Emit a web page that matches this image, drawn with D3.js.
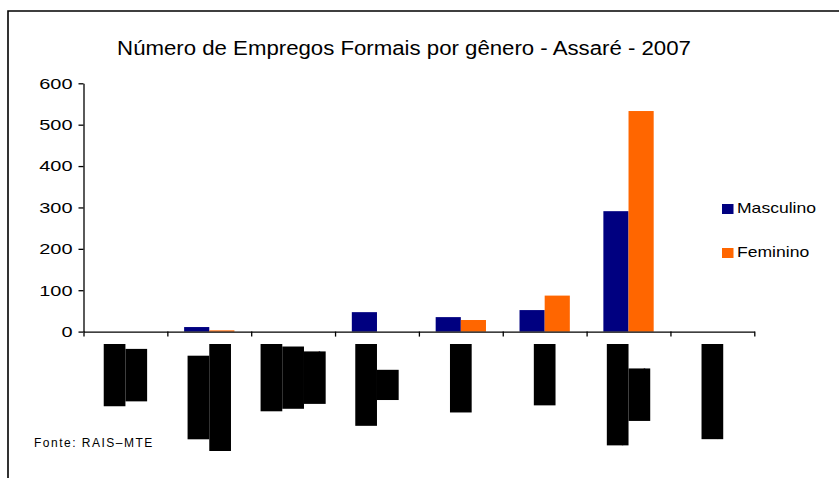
<!DOCTYPE html>
<html>
<head>
<meta charset="utf-8">
<script src="https://cdn.jsdelivr.net/npm/d3@7"></script>
<style>
  body { margin: 0; background: #fff; }
  text { font-family: "Liberation Sans", Arial, sans-serif; }
</style>
</head>
<body>
<svg id="chart" width="839" height="478"></svg>
<script>
"use strict";

// data
const categories = ["Extrativa Mineral", "Indústria de Transformação", "Serv. Ind. Utilidade Pública",
    "Construção Civil", "Comércio", "Serviços", "Administração Pública", "Agropecuária"];
// label lines as they are wrapped under each bar group
const labelLines = [
    ["Extrativa", "Mineral"],
    ["Indústria de", "Transformação"],
    ["Serv. Ind.", "Utilidade", "Pública"],
    ["Construção", "Civil"],
    ["Comércio"],
    ["Serviços"],
    ["Administração", "Pública"],
    ["Agropecuária"]
];
const seriesNames = ["Masculino", "Feminino"];
const masculino = [0, 11, 0, 47, 35, 52, 291, 0];
const feminino = [0, 3, 0, 0, 28, 87, 533, 0];
const yTicks = [0, 100, 200, 300, 400, 500, 600];
const colors = ["#000080", "#FF6600"];

const svg = d3.select("#chart");

// stretch text horizontally like the original rendering
function stretch(sel, f) {
    sel.each(function() {
        const w = this.getComputedTextLength();
        d3.select(this).attr("textLength", w * f).attr("lengthAdjust", "spacingAndGlyphs");
    });
}

// frame (only top and left edges are visible)
svg.append("path")
    .attr("d", "M8,478 L8,11 L839,11")
    .attr("fill", "none")
    .attr("stroke", "#000")
    .attr("stroke-width", 1.6);

const plotLeft = 83.5, plotRight = 754.3, plotTop = 83.3, plotBottom = 331.6;

const y = d3.scaleLinear().domain([0, 600]).range([plotBottom, plotTop]);
const x0 = d3.scaleBand().domain(categories).range([plotLeft, plotRight]).padding(0);
const bw = x0.bandwidth();
const x1 = d3.scaleBand().domain(seriesNames).range([bw * 0.2, bw * 0.8]);
const xIdx = d3.scaleLinear().domain([0, categories.length]).range([plotLeft, plotRight]);

// title
svg.append("text")
    .attr("x", 404)
    .attr("y", 54.5)
    .attr("text-anchor", "middle")
    .style("font-size", "20px")
    .text("Número de Empregos Formais por gênero - Assaré - 2007")
    .call(stretch, 1.11);

// y axis
const yAxis = svg.append("g")
    .attr("transform", "translate(" + plotLeft + ",0)")
    .call(d3.axisLeft(y).tickValues(yTicks).tickSize(5).tickSizeOuter(0).tickPadding(6));
yAxis.selectAll("path, line").attr("stroke", "#000").attr("stroke-width", 1.3);
yAxis.selectAll("text")
    .style("font-size", "15px")
    .attr("fill", "#000")
    .call(stretch, 1.33);

// bars
const rows = categories.map((c, i) => ({ cat: c, vals: [masculino[i], feminino[i]] }));
const groups = svg.append("g").selectAll("g")
    .data(rows)
    .join("g")
    .attr("transform", d => "translate(" + x0(d.cat) + ",0)");

groups.selectAll("rect")
    .data(d => d.vals.map((v, k) => ({ name: seriesNames[k], v: v, k: k })))
    .join("rect")
    .attr("x", d => x1(d.name))
    .attr("width", x1.bandwidth())
    .attr("y", d => y(d.v))
    .attr("height", d => y(0) - y(d.v))
    .attr("fill", d => colors[d.k]);

// x axis with ticks between categories
const xAxis = svg.append("g")
    .attr("transform", "translate(0," + plotBottom + ")")
    .call(d3.axisBottom(xIdx).ticks(categories.length).tickSize(5).tickSizeOuter(0).tickFormat(""));
xAxis.selectAll("path, line").attr("stroke", "#000").attr("stroke-width", 1.3);

// category labels (rendered as solid black blocks, as in the original)
const lineStep = 21.7;
const labelTop = 344;
labelLines.forEach((lines, i) => {
    const g = svg.append("g")
        .attr("transform", "translate(" + (x0(categories[i]) + bw / 2) + "," + labelTop + ")");
    const texts = lines.map((t, j) => {
        const cx = (j - (lines.length - 1) / 2) * lineStep;
        return g.append("text")
            .attr("text-anchor", "middle")
            .attr("dominant-baseline", "central")
            .style("font-size", "16px")
            .attr("fill", "#000")
            .attr("data-cx", cx)
            .text(t);
    });
    const lens = texts.map(t => t.node().getComputedTextLength());
    const maxLen = d3.max(lens);
    texts.forEach((t, j) => {
        const cx = +t.attr("data-cx");
        g.insert("rect", "text")
            .attr("x", cx - lineStep / 2)
            .attr("y", maxLen / 2 - lens[j] / 2)
            .attr("width", lineStep)
            .attr("height", lens[j])
            .attr("fill", "#000");
        t.attr("transform", "translate(" + cx + "," + (maxLen / 2) + ") rotate(-90)");
    });
});

// legend
const legend = svg.append("g").selectAll("g")
    .data(seriesNames)
    .join("g")
    .attr("transform", (d, i) => "translate(722," + (204 + i * 44) + ")");
legend.append("rect")
    .attr("width", 11.5)
    .attr("height", 10)
    .attr("fill", (d, i) => colors[i]);
legend.append("text")
    .attr("x", 15)
    .attr("y", 8.5)
    .style("font-size", "15px")
    .attr("fill", "#000")
    .text(d => d)
    .call(stretch, 1.17);

// source note
svg.append("text")
    .attr("x", 34)
    .attr("y", 447)
    .style("font-size", "12px")
    .style("letter-spacing", "1.5px")
    .text("Fonte: RAIS–MTE");
</script>
</body>
</html>
